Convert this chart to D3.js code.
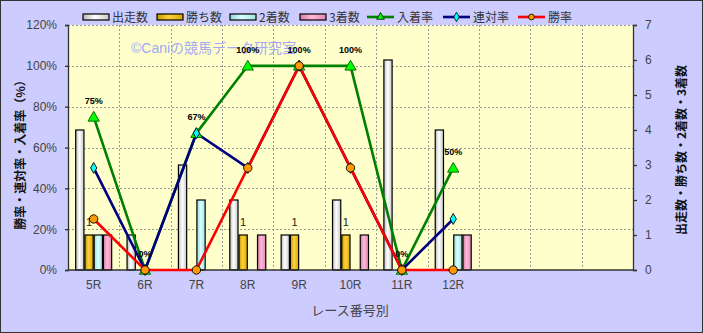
<!DOCTYPE html>
<html>
<head>
<meta charset="utf-8">
<script src="https://cdn.jsdelivr.net/npm/d3@7"></script>
<style>
  body { margin: 0; background: #fff; }
  svg { display: block; font-family: "Liberation Sans", "Noto Sans CJK JP", sans-serif; }
</style>
</head>
<body>
<svg id="chart" width="703" height="333"></svg>
<script>
// race labels, plus three empty slots at the end of the axis
const races = ['5R', '6R', '7R', '8R', '9R', '10R', '11R', '12R'];
const slotCount = 11;

// counts (right axis)
const starts = [4, 1, 3, 2, 1, 2, 6, 4];      // 出走数
const wins = [1, 0, 0, 1, 1, 1, 0, 0];        // 勝ち数
const seconds = [1, 0, 2, 0, 0, 0, 0, 1];     // 2着数
const thirds = [1, 0, 0, 1, 0, 1, 0, 1];      // 3着数

// rates (left axis, percent)
const placeRate = [75, 0, 67, 100, 100, 100, 0, 50];   // 入着率
const quinellaRate = [50, 0, 67, 50, 100, 50, 0, 25];  // 連対率
const winRate = [25, 0, 0, 50, 100, 50, 0, 0];         // 勝率

const leftTicks = [0, 20, 40, 60, 80, 100, 120];
const rightTicks = [0, 1, 2, 3, 4, 5, 6, 7];

const barSeries = [
    { name: '出走数', values: starts, grad: ['#b8b8b8', '#ffffff', '#c8c8c8'] },
    { name: '勝ち数', values: wins, grad: ['#c89a00', '#ffd23a', '#d8a800'] },
    { name: '2着数', values: seconds, grad: ['#8fd8d8', '#dcffff', '#a0e4e4'] },
    { name: '3着数', values: thirds, grad: ['#d878a8', '#ffbad8', '#e088b4'] }
];
const lineSeries = [
    { name: '入着率', values: placeRate, stroke: '#008000', fill: '#00ff00', marker: 'triangle' },
    { name: '連対率', values: quinellaRate, stroke: '#000080', fill: '#00ffff', marker: 'diamond' },
    { name: '勝率', values: winRate, stroke: '#ff0000', fill: '#ff9900', marker: 'circle' }
];

const svg = d3.select('#chart');
const W = 703, H = 333;
const plot = { left: 68, right: 633, top: 25, bottom: 270 };

// gradients for the bars
const defs = svg.append('defs');
barSeries.forEach((s, i) => {
    const g = defs.append('linearGradient').attr('id', 'bar' + i)
        .attr('x1', '0%').attr('x2', '100%').attr('y1', '0%').attr('y2', '0%');
    g.append('stop').attr('offset', '0%').attr('stop-color', s.grad[0]);
    g.append('stop').attr('offset', '45%').attr('stop-color', s.grad[1]);
    g.append('stop').attr('offset', '100%').attr('stop-color', s.grad[2]);
});

// backgrounds
svg.append('rect').attr('x', 0.5).attr('y', 0.5).attr('width', W - 1).attr('height', H - 1)
    .attr('fill', '#ccccff').attr('stroke', '#333').attr('stroke-width', 1);
svg.append('rect').attr('x', plot.left).attr('y', plot.top)
    .attr('width', plot.right - plot.left).attr('height', plot.bottom - plot.top)
    .attr('fill', '#ffffcc');

const x = d3.scaleBand().domain(d3.range(slotCount)).range([plot.left, plot.right]);
const yL = d3.scaleLinear().domain([0, 120]).range([plot.bottom, plot.top]);
const yR = d3.scaleLinear().domain([0, 7]).range([plot.bottom, plot.top]);
const groupW = x.bandwidth() * 0.72;
const xs = d3.scaleBand().domain(d3.range(barSeries.length)).range([0, groupW]);

// gridlines
svg.append('g').selectAll('line').data(leftTicks.slice(1)).join('line')
    .attr('x1', plot.left).attr('x2', plot.right)
    .attr('y1', d => Math.round(yL(d)) + 0.5).attr('y2', d => Math.round(yL(d)) + 0.5)
    .attr('stroke', '#999').attr('stroke-dasharray', '2,2');
svg.append('g').selectAll('line').data(d3.range(1, slotCount)).join('line')
    .attr('x1', d => Math.round(x(d)) + 0.5).attr('x2', d => Math.round(x(d)) + 0.5)
    .attr('y1', plot.top).attr('y2', plot.bottom)
    .attr('stroke', '#999').attr('stroke-dasharray', '2,2');

// watermark
svg.append('text').attr('x', 131).attr('y', 53)
    .style('font-size', '14px').attr('fill', '#a4a8f4')
    .text('©Caniの競馬データ研究室');

// bars
barSeries.forEach((s, si) => {
    svg.append('g').selectAll('rect').data(s.values).join('rect')
        .attr('x', (d, i) => x(i) + (x.bandwidth() - groupW) / 2 + xs(si) + 0.5)
        .attr('y', d => yR(d))
        .attr('width', xs.bandwidth() - 1)
        .attr('height', d => yR(0) - yR(d))
        .attr('fill', 'url(#bar' + si + ')')
        .attr('stroke', '#000').attr('stroke-width', 1.2)
        .style('display', d => d > 0 ? null : 'none');
});

// win count labels
svg.append('g').selectAll('text').data(wins).join('text')
    .attr('x', (d, i) => x(i) + (x.bandwidth() - groupW) / 2 + xs(1) + xs.bandwidth() / 2)
    .attr('y', d => yR(d) - 9)
    .attr('text-anchor', 'middle')
    .style('font-size', '11px').attr('fill', '#222')
    .text(d => d > 0 ? d : '');

// axes
const cx = i => x(i) + x.bandwidth() / 2;
const axisL = svg.append('g').attr('transform', `translate(${plot.left},0)`)
    .call(d3.axisLeft(yL).tickValues(leftTicks).tickFormat(d => d + '%').tickSize(3).tickPadding(8));
const axisR = svg.append('g').attr('transform', `translate(${plot.right},0)`)
    .call(d3.axisRight(yR).tickValues(rightTicks).tickFormat(d3.format('d')).tickSize(4).tickPadding(8));
const axisB = svg.append('g').attr('transform', `translate(0,${plot.bottom})`)
    .call(d3.axisBottom(x).tickFormat(i => races[i] || '').tickSize(0).tickPadding(10));
[axisL, axisR, axisB].forEach(a => {
    a.selectAll('path, line').attr('stroke', '#333').attr('stroke-width', 1.3);
    a.selectAll('text').style('font-size', '12px').attr('fill', '#444')
        .style('font-family', '"Liberation Sans", sans-serif');
});
axisB.select('.domain').attr('d', `M${plot.left},0H${plot.right}`);

// marker shapes
const symbolOf = {
    triangle: d3.symbol(d3.symbolTriangle, 55),
    diamond: d3.symbol(d3.symbolDiamond, 34),
    circle: d3.symbol(d3.symbolCircle, 55)
};

// lines
lineSeries.forEach(s => {
    const line = d3.line().x((d, i) => cx(i)).y(d => yL(d));
    svg.append('path').datum(s.values).attr('d', line)
        .attr('fill', 'none').attr('stroke', s.stroke).attr('stroke-width', 2.6);
});
lineSeries.forEach(s => {
    svg.append('g').selectAll('path').data(s.values).join('path')
        .attr('transform', (d, i) => `translate(${cx(i)},${yL(d) + (s.marker === 'triangle' ? 1 : 0)})`)
        .attr('d', symbolOf[s.marker]())
        .attr('fill', s.fill)
        .attr('stroke', s.marker === 'triangle' ? '#006000' : '#000')
        .attr('stroke-width', 0.9);
});

// place rate labels
svg.append('g').selectAll('text').data(placeRate).join('text')
    .attr('x', (d, i) => cx(i))
    .attr('y', d => yL(d) - 13)
    .attr('text-anchor', 'middle')
    .style('font-size', '9px').style('font-weight', 'bold').attr('fill', '#000')
    .text(d => d + '%');

// axis titles
svg.append('text')
    .attr('transform', 'translate(25,152)rotate(-90)')
    .attr('text-anchor', 'middle')
    .style('font-size', '12px').style('font-weight', 'bold').attr('fill', '#111')
    .style('font-family', '"Noto Sans CJK JP", sans-serif')
    .text('勝率・連対率・入着率（%）');
svg.append('text')
    .attr('transform', 'translate(686,150)rotate(-90)')
    .attr('text-anchor', 'middle')
    .style('font-size', '12px').style('font-weight', 'bold').attr('fill', '#111')
    .style('font-family', '"Noto Sans CJK JP", sans-serif')
    .text('出走数・勝ち数・2着数・3着数');
svg.append('text')
    .attr('x', 350).attr('y', 315)
    .attr('text-anchor', 'middle')
    .style('font-size', '13px').attr('fill', '#444')
    .style('font-family', '"Noto Sans CJK JP", sans-serif')
    .text('レース番号別');

// legend
const legendY = 17;
const legendX = [83, 157, 230, 300, 367, 443, 518];
const legend = svg.append('g');
barSeries.forEach((s, i) => {
    legend.append('rect').attr('x', legendX[i]).attr('y', legendY - 3).attr('width', 26).attr('height', 6)
        .attr('fill', 'url(#bar' + i + ')').attr('stroke', '#000').attr('stroke-width', 1.2);
    legend.append('text').attr('x', legendX[i] + 29).attr('y', legendY + 5)
        .style('font-size', '12px').attr('fill', '#333')
        .style('font-family', '"Noto Sans CJK JP", sans-serif')
        .text(s.name);
});
lineSeries.forEach((s, j) => {
    const lx = legendX[barSeries.length + j];
    legend.append('line').attr('x1', lx).attr('x2', lx + 27).attr('y1', legendY).attr('y2', legendY)
        .attr('stroke', s.stroke).attr('stroke-width', 2.6);
    legend.append('path').attr('transform', `translate(${lx + 13.5},${legendY})`)
        .attr('d', d3.symbol(s.marker === 'triangle' ? d3.symbolTriangle : s.marker === 'diamond' ? d3.symbolDiamond : d3.symbolCircle, 26)())
        .attr('fill', s.fill).attr('stroke', '#000').attr('stroke-width', 0.8);
    legend.append('text').attr('x', lx + 30).attr('y', legendY + 5)
        .style('font-size', '12px').attr('fill', '#333')
        .style('font-family', '"Noto Sans CJK JP", sans-serif')
        .text(s.name);
});
</script>
</body>
</html>
